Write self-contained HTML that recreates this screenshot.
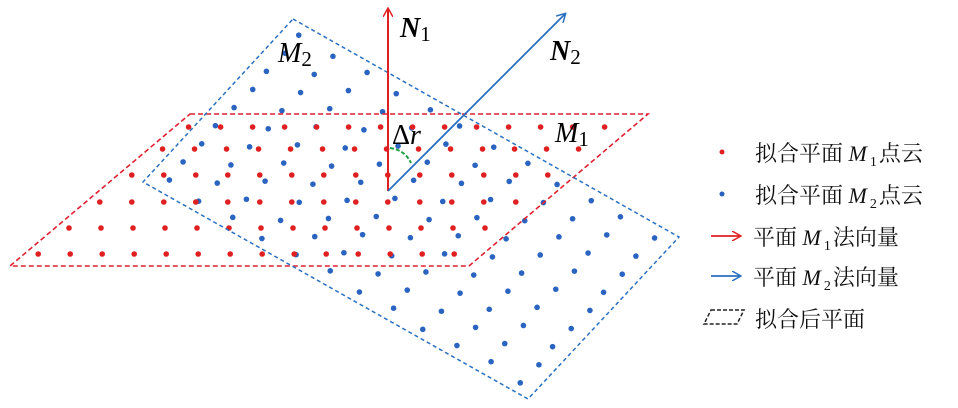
<!DOCTYPE html>
<html><head><meta charset="utf-8"><style>
body{margin:0;background:#fff;}
svg{display:block}
text{font-family:"Liberation Serif","Noto Serif CJK SC",serif;}
.cn{font-family:"Liberation Serif","Noto Serif CJK SC",serif;font-size:22px;fill:#111}
</style></head><body>
<svg id="s" width="958" height="408" viewBox="0 0 958 408" xmlns="http://www.w3.org/2000/svg">
<defs>
<marker id="ar" markerWidth="10" markerHeight="10" refX="8" refY="5" orient="auto" markerUnits="userSpaceOnUse"><path d="M0,0 L9,5 L0,10" fill="none" stroke="#e02020" stroke-width="1.5"/></marker>
<marker id="ab" markerWidth="10" markerHeight="10" refX="8" refY="5" orient="auto" markerUnits="userSpaceOnUse"><path d="M0,0 L9,5 L0,10" fill="none" stroke="#2a70c0" stroke-width="1.5"/></marker>
</defs>
<g id="dots"></g>
<polygon points="190,114 648,114 469,266 10,266" fill="none" stroke="#e02030" stroke-width="1.6" stroke-dasharray="5,3"/>
<polygon points="293,19 679,237 528,399 143,182" fill="none" stroke="#2a70c0" stroke-width="1.5" stroke-dasharray="4,3"/>
<line x1="388" y1="191" x2="388" y2="9" stroke="#e02020" stroke-width="2" marker-end="url(#ar)"/>
<line x1="388" y1="191" x2="565" y2="14" stroke="#2a70c0" stroke-width="1.8" marker-end="url(#ab)"/>
<path d="M390,148 Q405,150 411,163" fill="none" stroke="#20a040" stroke-width="2" stroke-dasharray="4,2"/>
<text x="400" y="37" font-size="28" font-weight="bold" font-style="italic">N<tspan font-size="21" font-style="normal" font-weight="normal" dy="4">1</tspan></text>
<text x="550" y="60" font-size="28" font-weight="bold" font-style="italic">N<tspan font-size="21" font-style="normal" font-weight="normal" dy="4">2</tspan></text>
<text x="278" y="62" font-size="28" font-style="italic">M<tspan font-size="21" font-style="normal" dy="4">2</tspan></text>
<text x="555" y="142" font-size="28" font-style="italic">M<tspan font-size="21" font-style="normal" dy="4">1</tspan></text>
<text x="392" y="144" font-size="28">Δ<tspan font-style="italic">r</tspan></text>
<circle cx="722" cy="152" r="2.5" fill="#e02020"/>
<circle cx="722" cy="194" r="2.5" fill="#2a60c0"/>
<line x1="711" y1="236" x2="740" y2="236" stroke="#e02020" stroke-width="1.8" marker-end="url(#ar)"/>
<line x1="711" y1="276" x2="740" y2="276" stroke="#2a70c0" stroke-width="1.8" marker-end="url(#ab)"/>
<polygon points="711,310 744,310 737,324 704,324" fill="none" stroke="#222" stroke-width="1.5" stroke-dasharray="4,2"/>
<text class="cn" x="755" y="161">拟合平面 <tspan font-style="italic">M</tspan><tspan font-size="14" dx="3" dy="5">1</tspan><tspan dx="2" dy="-5">点云</tspan></text>
<text class="cn" x="755" y="203">拟合平面 <tspan font-style="italic">M</tspan><tspan font-size="14" dx="3" dy="5">2</tspan><tspan dx="2" dy="-5">点云</tspan></text>
<text class="cn" x="753" y="245">平面 <tspan font-style="italic">M</tspan><tspan font-size="14" dx="3" dy="5">1</tspan><tspan dx="2" dy="-5">法向量</tspan></text>
<text class="cn" x="753" y="285">平面 <tspan font-style="italic">M</tspan><tspan font-size="14" dx="3" dy="5">2</tspan><tspan dx="2" dy="-5">法向量</tspan></text>
<text class="cn" x="755" y="327">拟合后平面</text>
</svg>
<script>
var g=document.getElementById('dots'),ns='http://www.w3.org/2000/svg';
function dot(x,y,c){var e=document.createElementNS(ns,'circle');e.setAttribute('cx',x);e.setAttribute('cy',y);e.setAttribute('r',2.8);e.setAttribute('fill',c);g.appendChild(e);}
var T=[293,19],U=[386,218],V=[-150,163];
for(var i=0;i<12;i++)for(var j=0;j<9;j++){
 var u=(i+0.5)/12,v=(j+0.5)/9;
 dot(T[0]+U[0]*u+V[0]*v+((i*7+j*3)%5-2),T[1]+U[1]*u+V[1]*v+((i*3+j*5)%5-2),'#2a64c0');}
var ys=[127,149,175,202,228,254];
ys.forEach(function(y,r){
 var left=190+(y-114)*(-180/152)+14, right=648+(y-114)*(-179/152)-14;
 for(var x=left;x<=right;x+=32)dot(x,y,'#e02020');});
</script>
</body></html>
